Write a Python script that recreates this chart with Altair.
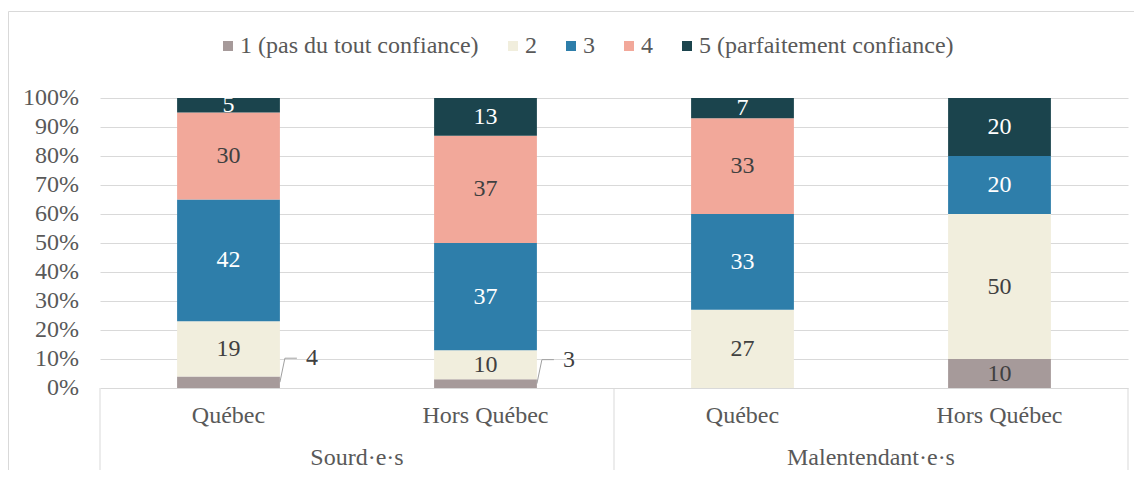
import altair as alt
import pandas as pd

# ---- data ----
groups = ["Sourd·e·s", "Sourd·e·s", "Malentendant·e·s", "Malentendant·e·s"]
regions = ["Québec", "Hors Québec", "Québec", "Hors Québec"]
levels = ["1 (pas du tout confiance)", "2", "3", "4", "5 (parfaitement confiance)"]
colors = ["#a69a9a", "#f1eedd", "#2e7eaa", "#f2a89a", "#1b444d"]
v1 = [4, 3, 0, 10]
v2 = [19, 10, 27, 50]
v3 = [42, 37, 33, 20]
v4 = [30, 37, 33, 0]
v5 = [5, 13, 7, 20]
series = [v1, v2, v3, v4, v5]
y_ticks = [i / 10 for i in range(11)]

rows = []
for li, (lvl, vals) in enumerate(zip(levels, series)):
    for bi, v in enumerate(vals):
        rows.append({"bar": bi, "group": groups[bi], "region": regions[bi],
                     "level": lvl, "lvl": li + 1, "value": v, "frac": v / 100})
df = pd.DataFrame(rows)

group_names = list(dict.fromkeys(groups))
gdf = pd.DataFrame({
    "group": group_names,
    "xc": [sum(i + 0.5 for i, g in enumerate(groups) if g == gn) /
           sum(1 for g in groups if g == gn) for gn in group_names],
})
bounds = [0] + [i for i in range(1, len(groups)) if groups[i] != groups[i - 1]] + [len(groups)]
sdf = pd.DataFrame({"x": bounds})
cdf = pd.DataFrame({"region": regions, "xc": [i + 0.5 for i in range(len(regions))]})
tdf = pd.DataFrame({"t": y_ticks})

FONT = "'Liberation Serif', 'Times New Roman', 'DejaVu Serif', serif"
W, H = 1028, 290
HALF = 0.2
GRID = "#d9d9d9"
AXC = "#595959"

xscale = alt.Scale(domain=[0, len(groups)], nice=False, zero=False)
yscale = alt.Scale(domain=[0, 1], nice=False)

# axes keep the grid only; their labels are drawn as text marks below
xaxis = alt.Axis(values=[i + 0.5 for i in range(len(groups))], labels=False,
                 grid=False, ticks=False, domain=False, title=None)
yaxis = alt.Axis(values=y_ticks, labels=False, grid=True, gridColor=GRID,
                 gridWidth=1, domain=False, ticks=False, title=None)

XN = lambda f: alt.X(f, scale=xscale, axis=xaxis)
YN = lambda f: alt.Y(f, scale=yscale, axis=yaxis)

base = alt.Chart(df).transform_stack(
    stack="frac", groupby=["bar"],
    sort=[alt.SortField("lvl", order="ascending")], as_=["y0", "y1"]
).transform_calculate(
    xl=f"datum.bar + 0.5 - {HALF}",
    xr=f"datum.bar + 0.5 + {HALF}",
    xc="datum.bar + 0.5",
    ym="(datum.y0 + datum.y1) / 2",
)

bars = base.mark_rect().encode(
    x=XN("xl:Q"), x2="xr:Q",
    y=YN("y0:Q"), y2="y1:Q",
    color=alt.Color("level:N", title=None,
                    scale=alt.Scale(domain=levels, range=colors),
                    legend=alt.Legend(orient="none", legendX=116, legendY=-64,
                                      direction="horizontal", symbolType="square",
                                      symbolSize=100, symbolStrokeWidth=0,
                                      labelFont=FONT, labelFontSize=24,
                                      labelColor=AXC, columnPadding=22,
                                      labelOffset=0, labelLimit=400, padding=0)),
)

inside = base.transform_filter("datum.value >= 5").mark_text(
    font=FONT, fontSize=24, baseline="middle", align="center"
).encode(
    x=XN("xc:Q"),
    y=YN("ym:Q"),
    text=alt.Text("value:Q"),
    color=alt.condition("datum.lvl == 3 || datum.lvl == 5",
                        alt.value("#ffffff"), alt.value("#404040")),
)

small = base.transform_filter("datum.value > 0 && datum.value < 5")

outside = small.mark_text(
    font=FONT, fontSize=24, baseline="middle", align="left",
    dx=26, dy=-24, color="#404040"
).encode(x=XN("xr:Q"), y=YN("ym:Q"), text=alt.Text("value:Q"))

lead1 = small.mark_rule(color="#a0a0a0", strokeWidth=1, x2Offset=5, y2Offset=-24).encode(
    x=XN("xr:Q"), x2="xr:Q", y=YN("ym:Q"), y2="ym:Q")
lead2 = small.mark_rule(color="#a0a0a0", strokeWidth=1, xOffset=5, yOffset=-24,
                        x2Offset=17, y2Offset=-24).encode(
    x=XN("xr:Q"), x2="xr:Q", y=YN("ym:Q"), y2="ym:Q")

seps = alt.Chart(sdf).mark_rule(color=GRID, strokeWidth=1).encode(
    x=XN("x:Q"), y=alt.value(H), y2=alt.value(H + 90))

# y tick labels
ylabels = alt.Chart(tdf).mark_text(
    font=FONT, fontSize=24, baseline="middle", align="right", color=AXC, dx=-21
).encode(x=alt.value(0), y=YN("t:Q"), text=alt.Text("t:Q", format=".0%"))

# category labels
clabels = alt.Chart(cdf).mark_text(
    font=FONT, fontSize=24, baseline="middle", align="center", color=AXC
).encode(x=XN("xc:Q"), y=alt.value(H + 28), text="region:N")

glabels = alt.Chart(gdf).mark_text(
    font=FONT, fontSize=24, baseline="middle", align="center", color=AXC
).encode(x=XN("xc:Q"), y=alt.value(H + 70), text="group:N")

border = alt.Chart(pd.DataFrame({"a": [0]})).mark_rect(
    fill="transparent", stroke=GRID, strokeWidth=1
).encode(x=alt.value(-91.5), x2=alt.value(W + 60),
         y=alt.value(-86.5), y2=alt.value(H + 200))

chart = alt.layer(border, bars, seps, inside, lead1, lead2, outside,
                  ylabels, clabels, glabels).properties(
    width=W, height=H,
    padding={"left": 92, "top": 90, "right": 6, "bottom": 82},
    autosize=alt.AutoSizeParams(type="none"),
    background="white",
).configure(
    style={"guide-label": {"font": FONT}}
).configure_view(strokeWidth=0).configure_legend(labelFont=FONT)

chart.save("out.html", embed_options={"renderer": "svg", "actions": False})
